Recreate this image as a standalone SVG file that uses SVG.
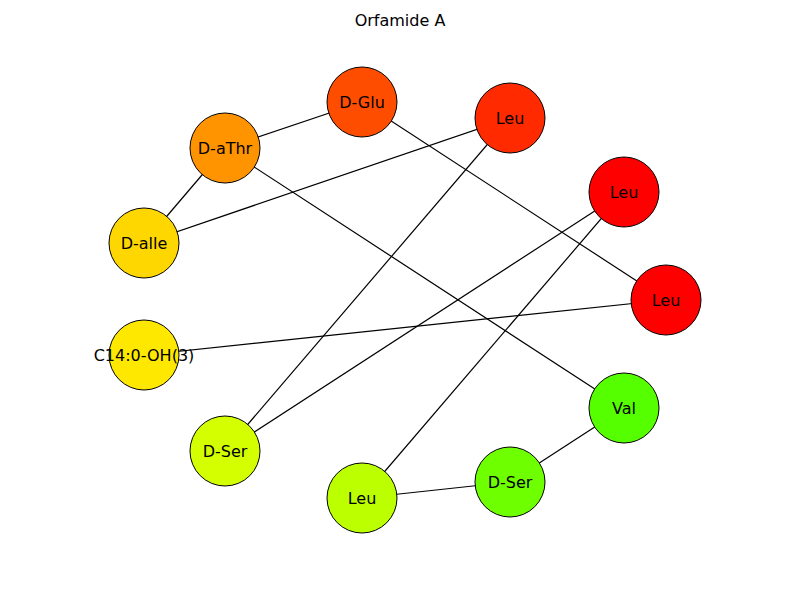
<svg xmlns="http://www.w3.org/2000/svg" width="800" height="600" viewBox="0 0 800 600">
<style>
.e{stroke:#000;stroke-width:1.2;fill:none}
.n circle{stroke:#000;stroke-width:1}
text{font-family:"DejaVu Sans",sans-serif;font-size:16px;fill:#000;text-anchor:middle;dominant-baseline:central}
</style>
<rect width="800" height="600" fill="#fff"/>
<text x="400" y="20">Orfamide A</text>
<g id="edges">
<line class="e" x1="225" y1="148" x2="362" y2="102"/>
<line class="e" x1="225" y1="148" x2="144" y2="243"/>
<line class="e" x1="225" y1="148" x2="624" y2="408"/>
<line class="e" x1="362" y1="102" x2="666" y2="300"/>
<line class="e" x1="510" y1="118" x2="144" y2="243"/>
<line class="e" x1="510" y1="118" x2="225" y2="451"/>
<line class="e" x1="624" y1="192" x2="225" y2="451"/>
<line class="e" x1="624" y1="192" x2="362" y2="498"/>
<line class="e" x1="666" y1="300" x2="144" y2="355"/>
<line class="e" x1="624" y1="408" x2="510" y2="482"/>
<line class="e" x1="510" y1="482" x2="362" y2="498"/>
</g>
<g id="n0" class="n"><circle cx="362" cy="102" r="35" fill="#FF4D00"/><text x="362" y="102">D-Glu</text></g>
<g id="n1" class="n"><circle cx="510" cy="118" r="35" fill="#FF2A00"/><text x="510" y="118">Leu</text></g>
<g id="n2" class="n"><circle cx="624" cy="192" r="35" fill="#FF0000"/><text x="624" y="192">Leu</text></g>
<g id="n3" class="n"><circle cx="666" cy="300" r="35" fill="#FF0000"/><text x="666" y="300">Leu</text></g>
<g id="n4" class="n"><circle cx="624" cy="408" r="35" fill="#55FF00"/><text x="624" y="408">Val</text></g>
<g id="n5" class="n"><circle cx="510" cy="482" r="35" fill="#6EFF00"/><text x="510" y="482">D-Ser</text></g>
<g id="n6" class="n"><circle cx="362" cy="498" r="35" fill="#BBFF00"/><text x="362" y="498">Leu</text></g>
<g id="n7" class="n"><circle cx="225" cy="451" r="35" fill="#D4FF00"/><text x="225" y="451">D-Ser</text></g>
<g id="n8" class="n"><circle cx="144" cy="355" r="35" fill="#FFE800"/><text x="144" y="355">C14:0-OH(3)</text></g>
<g id="n9" class="n"><circle cx="144" cy="243" r="35" fill="#FFD700"/><text x="144" y="243">D-alle</text></g>
<g id="n10" class="n"><circle cx="225" cy="148" r="35" fill="#FF9400"/><text x="225" y="148">D-aThr</text></g>
</svg>
